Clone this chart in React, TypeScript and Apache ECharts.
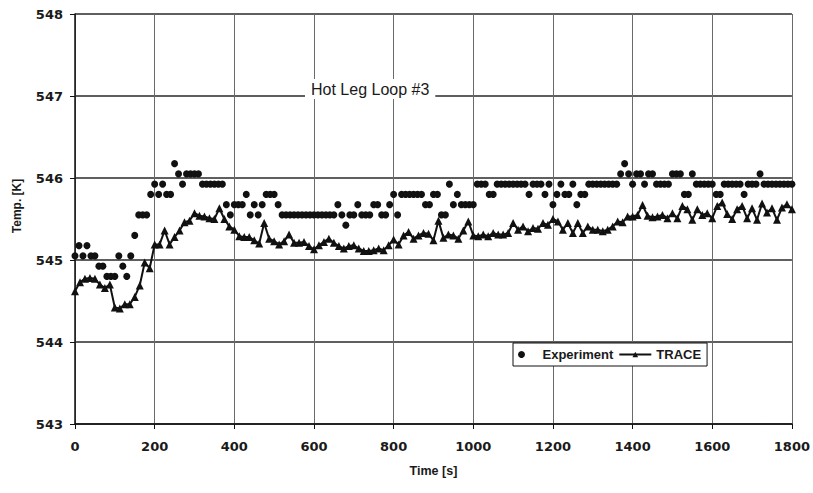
import React, { useEffect, useRef } from "react";
import * as echarts from "echarts";

// Time ticks (s) and temperature ticks (K)
const xTicks = [0, 200, 400, 600, 800, 1000, 1200, 1400, 1600, 1800];
const yTicks = [543, 544, 545, 546, 547, 548];

// Experiment: sampled every 10 s from 0 to 1800 s
const expStep = 10;
const experimentTemp = [
  545.05, 545.175, 545.05, 545.175, 545.05, 545.05, 544.925, 544.925, 544.8, 544.8,
  544.8, 545.05, 544.925, 544.8, 545.05, 545.3, 545.55, 545.55, 545.55, 545.8,
  545.925, 545.8, 545.925, 545.8, 545.8, 546.175, 546.05, 545.925, 546.05, 546.05,
  546.05, 546.05, 545.925, 545.925, 545.925, 545.925, 545.925, 545.925, 545.675, 545.55,
  545.675, 545.675, 545.675, 545.8, 545.55, 545.675, 545.55, 545.675, 545.8, 545.8,
  545.8, 545.675, 545.55, 545.55, 545.55, 545.55, 545.55, 545.55, 545.55, 545.55,
  545.55, 545.55, 545.55, 545.55, 545.55, 545.55, 545.675, 545.55, 545.425, 545.55,
  545.55, 545.675, 545.55, 545.55, 545.55, 545.675, 545.675, 545.55, 545.55, 545.675,
  545.8, 545.55, 545.8, 545.8, 545.8, 545.8, 545.8, 545.8, 545.675, 545.675,
  545.8, 545.8, 545.55, 545.55, 545.925, 545.675, 545.8, 545.675, 545.675, 545.675,
  545.675, 545.925, 545.925, 545.925, 545.8, 545.8, 545.925, 545.925, 545.925, 545.925,
  545.925, 545.925, 545.925, 545.925, 545.8, 545.925, 545.925, 545.925, 545.8, 545.925,
  545.675, 545.8, 545.925, 545.8, 545.8, 545.925, 545.675, 545.8, 545.8, 545.925,
  545.925, 545.925, 545.925, 545.925, 545.925, 545.925, 545.925, 546.05, 546.175, 546.05,
  545.925, 546.05, 546.05, 545.925, 546.05, 546.05, 545.925, 545.925, 545.925, 545.925,
  546.05, 546.05, 546.05, 545.8, 545.8, 546.05, 545.925, 545.925, 545.925, 545.925,
  545.925, 545.8, 545.8, 545.925, 545.925, 545.925, 545.925, 545.925, 545.8, 545.925,
  545.925, 545.925, 546.05, 545.925, 545.925, 545.925, 545.925, 545.925, 545.925, 545.925,
  545.925,
];

// TRACE: sampled every 12.5 s from 0 to 1800 s
const traceStep = 12.5;
const traceTemp = [
  544.62, 544.73, 544.77, 544.78, 544.77, 544.7, 544.66, 544.7,
  544.42, 544.41, 544.46, 544.46, 544.55, 544.69, 544.97, 544.9,
  545.19, 545.19, 545.36, 545.19, 545.28, 545.36, 545.46, 545.48,
  545.57, 545.54, 545.53, 545.51, 545.5, 545.63, 545.5, 545.41,
  545.37, 545.29, 545.28, 545.28, 545.24, 545.2, 545.45, 545.26,
  545.23, 545.19, 545.23, 545.31, 545.21, 545.21, 545.22, 545.17,
  545.13, 545.18, 545.22, 545.26, 545.21, 545.17, 545.14, 545.17,
  545.18, 545.14, 545.11, 545.11, 545.12, 545.14, 545.12, 545.18,
  545.25, 545.19, 545.3, 545.34, 545.26, 545.3, 545.33, 545.32,
  545.24, 545.48, 545.27, 545.31, 545.3, 545.26, 545.36, 545.47,
  545.3, 545.29, 545.31, 545.29, 545.33, 545.31, 545.31, 545.33,
  545.45, 545.37, 545.41, 545.35, 545.39, 545.38, 545.45, 545.43,
  545.5, 545.47, 545.37, 545.45, 545.33, 545.45, 545.33, 545.41,
  545.37, 545.37, 545.35, 545.37, 545.41, 545.47, 545.46, 545.53,
  545.53, 545.55, 545.67, 545.54, 545.52, 545.53, 545.55, 545.51,
  545.57, 545.51, 545.66, 545.62, 545.49, 545.62, 545.55, 545.57,
  545.51, 545.66, 545.7, 545.56, 545.5, 545.62, 545.66, 545.51,
  545.63, 545.49, 545.69, 545.58, 545.63, 545.49, 545.64, 545.68,
  545.62,
];

const seriesNames = ["Experiment", "TRACE"];
const titleText = "Hot Leg Loop #3";
const xName = "Time [s]";
const yName = "Temp. [K]";

export default function App() {
  const ref = useRef<HTMLDivElement>(null);

  useEffect(() => {
    if (!ref.current) return;
    const chart = echarts.init(ref.current, null, { renderer: "svg" });

    const expData = experimentTemp.map((v, i) => [i * expStep, v]);
    const traceData = traceTemp.map((v, i) => [i * traceStep, v]);

    const tickFont = {
      fontFamily: "DejaVu Sans",
      fontWeight: "bold" as const,
      fontSize: 13,
      color: "#1a1a1a",
    };

    chart.setOption({
      animation: false,
      backgroundColor: "#ffffff",
      grid: { left: 75, right: 18, top: 14, bottom: 69, containLabel: false },
      title: {
        text: titleText,
        left: 305,
        top: 79,
        padding: [2, 6],
        backgroundColor: "#ffffff",
        textStyle: {
          fontFamily: "Liberation Sans",
          fontSize: 16,
          fontWeight: "normal",
          color: "#1a1a1a",
        },
      },
      legend: {
        left: 513,
        top: 343,
        orient: "horizontal",
        padding: [5, 6, 5, 5],
        itemGap: 5,
        itemWidth: 32,
        itemHeight: 7,
        backgroundColor: "#ffffff",
        borderColor: "#111",
        borderWidth: 1,
        borderRadius: 0,
        data: [
          { name: seriesNames[0], icon: "circle" },
          { name: seriesNames[1] },
        ],
        textStyle: {
          fontFamily: "Liberation Sans",
          fontWeight: "bold",
          fontSize: 13,
          color: "#1a1a1a",
        },
      },
      xAxis: {
        type: "value",
        min: xTicks[0],
        max: xTicks[xTicks.length - 1],
        interval: xTicks[1] - xTicks[0],
        name: xName,
        nameLocation: "middle",
        nameGap: 40,
        nameTextStyle: {
          fontFamily: "Liberation Sans",
          fontWeight: "bold",
          fontSize: 12.5,
          color: "#1a1a1a",
        },
        axisLine: { show: true, lineStyle: { color: "#111", width: 1.5 } },
        axisTick: { show: true, length: 5, lineStyle: { color: "#111", width: 1 } },
        axisLabel: { ...tickFont, margin: 16, formatter: (v: number) => String(v) },
        splitLine: { show: true, lineStyle: { color: "#6a6a6a", width: 1 } },
      },
      yAxis: {
        type: "value",
        min: yTicks[0],
        max: yTicks[yTicks.length - 1],
        interval: yTicks[1] - yTicks[0],
        axisLine: { show: true, lineStyle: { color: "#111", width: 1.5 } },
        axisTick: { show: true, length: 5, lineStyle: { color: "#111", width: 1 } },
        axisLabel: { ...tickFont, margin: 12, formatter: (v: number) => String(v) },
        splitLine: { show: true, lineStyle: { color: "#2a2a2a", width: 1.5 } },
      },
      graphic: [
        {
          type: "text",
          x: 17,
          y: 206,
          rotation: Math.PI / 2,
          style: {
            text: yName,
            align: "center",
            verticalAlign: "middle",
            fontFamily: "Liberation Sans",
            fontWeight: "bold",
            fontSize: 12,
            fill: "#1a1a1a",
          },
        },
      ],
      series: [
        {
          name: seriesNames[0],
          type: "scatter",
          data: expData,
          symbol: "circle",
          symbolSize: 7,
          itemStyle: { color: "#111", opacity: 1 },
          z: 3,
        },
        {
          name: seriesNames[1],
          type: "line",
          data: traceData,
          symbol: "triangle",
          symbolSize: 8,
          showAllSymbol: true,
          lineStyle: { color: "#111", width: 2 },
          itemStyle: { color: "#111", opacity: 1 },
          z: 4,
        },
      ],
    });

    return () => chart.dispose();
  }, []);

  return (
    <div
      ref={ref}
      style={{ position: "absolute", left: 0, top: 0, width: 813, height: 493 }}
    />
  );
}
